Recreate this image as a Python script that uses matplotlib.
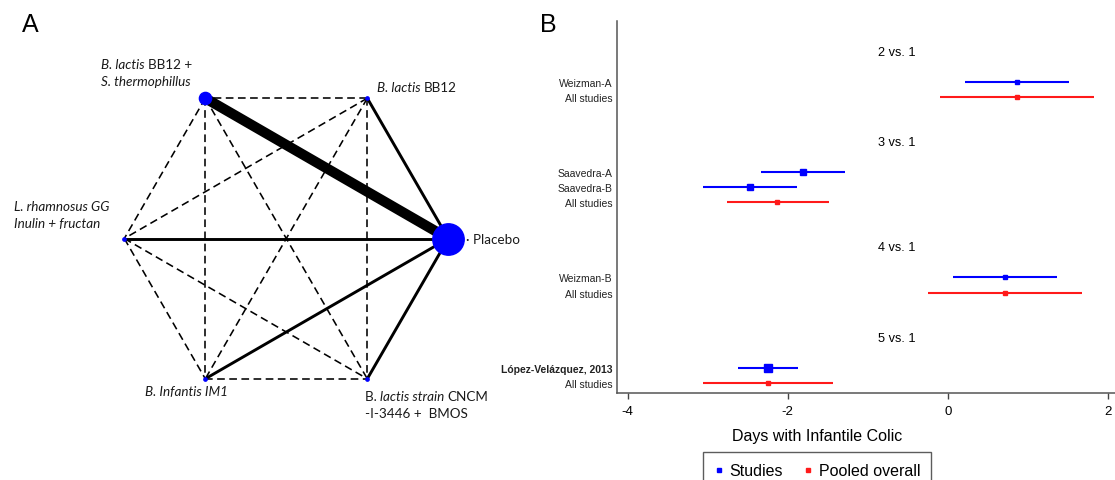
import matplotlib
matplotlib.use("Agg")
import matplotlib.pyplot as plt
import numpy as np
from matplotlib.lines import Line2D
from matplotlib.transforms import offset_copy

plt.rcParams['font.family'] = ['Liberation Sans', 'DejaVu Sans']

# ---------------- Panel A data (network) ----------------
treatments = ["Placebo", "B. lactis BB12", "B. lactis BB12 + S. thermophillus",
              "L. rhamnosus GG Inulin + fructan", "B. Infantis IM1",
              "B. lactis strain CNCM-I-3446 + BMOS"]
node_size = [22.6, 2.4, 8.8, 2.4, 2.4, 2.4]          # marker diameter (pt)
direct_edges = [(0, 1), (0, 2), (0, 3), (0, 4), (0, 5)]
direct_weight = [1.0, 3.5, 1.0, 1.0, 1.0]
indirect_edges = [(1, 2), (1, 3), (1, 4), (1, 5), (2, 3), (2, 4), (2, 5),
                  (3, 4), (3, 5), (4, 5)]
# each label: list of lines, each line: list of (text, italic)
node_labels = [
    [[("\u00b7 Placebo", False)]],
    [[("B. lactis ", True), ("BB12", False)]],
    [[("B. lactis ", True), ("BB12 +", False)], [("S. thermophillus", True)]],
    [[("L. rhamnosus GG", True)], [("Inulin + fructan", True)]],
    [[("B. Infantis IM1", True)]],
    [[("B. ", False), ("lactis strain ", True), ("CNCM", False)],
     [("-I-3446 +  BMOS", False)]],
]

# ---------------- Panel B data (forest plot) ----------------
groups = ["2 vs. 1", "3 vs. 1", "4 vs. 1", "5 vs. 1"]
study_labels = [["Weizman-A"], ["Saavedra-A", "Saavedra-B"], ["Weizman-B"],
                ["López-Velázquez, 2013"]]
study_est = [[0.86], [-1.81, -2.47], [0.72], [-2.25]]
study_lo = [[0.21], [-2.33, -3.06], [0.07], [-2.62]]
study_hi = [[1.52], [-1.29, -1.88], [1.36], [-1.87]]
study_msize = [[3.2], [4.3, 3.7], [3.2], [5.3]]
pooled_label = "All studies"
pooled_est = [0.86, -2.13, 0.72, -2.25]
pooled_lo = [-0.10, -2.76, -0.25, -3.06]
pooled_hi = [1.83, -1.48, 1.68, -1.44]
xticks = [-4, -2, 0, 2]
xlabel = "Days with Infantile Colic"
legend_labels = ["Studies", "Pooled overall"]

W, H = 1115, 481
fig = plt.figure(figsize=(W / 100, H / 100), dpi=100)
renderer = fig.canvas.get_renderer()
BLUE = "#0000ff"
RED = "#ff1a1a"

# ---------------- Panel A ----------------
axA = fig.add_axes([0, 0, 540 / W, 1])
axA.set_xlim(0, 540)
axA.set_ylim(H, 0)
axA.axis('off')
cx, cy, R = 286.3, 239.5, 162.0
ang = np.deg2rad(np.arange(len(treatments)) * 60.0)
nx = cx + R * np.cos(ang)
ny = cy - R * np.sin(ang)

for (i, j) in indirect_edges:
    axA.plot([nx[i], nx[j]], [ny[i], ny[j]], color='black', lw=1.15,
             linestyle=(0, (4.8, 2.8)), zorder=1)
for (i, j), w in zip(direct_edges, direct_weight):
    axA.plot([nx[i], nx[j]], [ny[i], ny[j]], color='black', lw=2.1 * w,
             solid_capstyle='butt', zorder=2)
for k in range(len(treatments)):
    axA.plot(nx[k], ny[k], 'o', ms=node_size[k], color=BLUE, mec=BLUE, zorder=3)

label_pos = [(466, 240), (377, 88), (101, 65), (14, 207), (145, 392), (365, 397)]
for k, lines in enumerate(node_labels):
    x0, y0 = label_pos[k]
    for li, segs in enumerate(lines):
        dx = 0.0
        for txt, it in segs:
            tr = offset_copy(axA.transData, fig=fig, x=dx, y=0, units='dots')
            t = axA.text(x0, y0 + li * 17, txt, fontsize=9.7, family='Lato',
                         style='italic' if it else 'normal', ha='left',
                         va='center', color='#1a1a1a', transform=tr)
            dx += t.get_window_extent(renderer=renderer).width

fig.text(30 / W, 1 - 25 / H, "A", fontsize=18, ha='center', va='center')
fig.text(548 / W, 1 - 25 / H, "B", fontsize=18, ha='center', va='center')

# ---------------- Panel B ----------------
left_px, right_px, top_px, bot_px = 617, 1115, 22, 394
axB = fig.add_axes([left_px / W, 1 - bot_px / H, (right_px - left_px) / W,
                    (bot_px - top_px) / H])

unit = 15.05
row_y, row_lab, row_bold = [], [], []
pos = 0
header_y = []
for g in range(len(groups)):
    header_y.append(pos)
    pos += 2
    for s in range(len(study_labels[g])):
        axB.plot([study_lo[g][s], study_hi[g][s]], [pos, pos], color=BLUE, lw=1.5,
                 solid_capstyle='butt', zorder=2)
        axB.plot(study_est[g][s], pos, 's', color=BLUE, ms=study_msize[g][s], zorder=3)
        row_y.append(pos)
        row_lab.append(study_labels[g][s])
        row_bold.append(',' in study_labels[g][s])
        pos += 1
    axB.plot([pooled_lo[g], pooled_hi[g]], [pos, pos], color=RED, lw=1.5,
             solid_capstyle='butt', zorder=2)
    axB.plot(pooled_est[g], pos, 's', color=RED, ms=2.6, zorder=3)
    row_y.append(pos)
    row_lab.append(pooled_label)
    row_bold.append(False)
    pos += 3

for g, hy in enumerate(header_y):
    axB.text(0.562, hy, groups[g], transform=axB.get_yaxis_transform(),
             ha='center', va='center', fontsize=9.2)

axB.set_xlim(-4.135, 2.09)
axB.set_ylim((bot_px - 52.7) / unit, (top_px - 52.7) / unit)
axB.set_yticks(row_y)
axB.set_yticklabels(row_lab)
for t, b in zip(axB.get_yticklabels(), row_bold):
    t.set_fontsize(7.5)
    t.set_color('#222222')
    if b:
        t.set_fontweight('bold')
axB.tick_params(axis='y', length=0, pad=3)
axB.set_xticks(xticks)
axB.set_xticklabels([str(v) for v in xticks])
axB.tick_params(axis='x', length=4.5, width=1.0, color='#444444', pad=4,
                labelsize=9.5)
for sp in ['top', 'right']:
    axB.spines[sp].set_visible(False)
for sp in ['left', 'bottom']:
    axB.spines[sp].set_color('#555555')
    axB.spines[sp].set_linewidth(1.1)

fig.text(817 / W, 1 - 437 / H, xlabel, ha='center', va='center', fontsize=11.5)

handles = [Line2D([], [], ls='none', marker='s', ms=2.2, color=BLUE),
           Line2D([], [], ls='none', marker='s', ms=2.2, color=RED)]
fig.legend(handles, legend_labels, loc='upper center',
           bbox_to_anchor=(817 / W, 1 - 453 / H), ncol=2, frameon=True,
           fancybox=False, edgecolor='#333333', fontsize=11.5, borderpad=0.7,
           handlelength=0.6, handletextpad=0.35, columnspacing=1.3,
           borderaxespad=0)

fig.savefig("out.png", dpi=100)
